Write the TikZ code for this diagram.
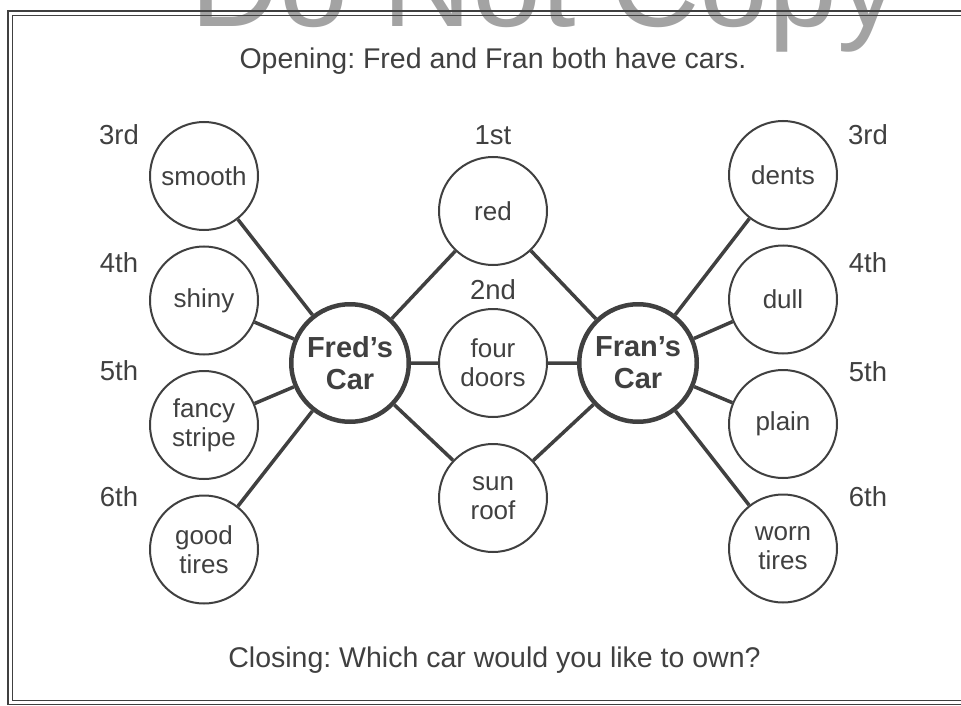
\documentclass[tikz,border=0pt]{standalone}
\usepackage{fontspec}
\setmainfont{Liberation Sans}
\usepackage{xcolor}
\usetikzlibrary{positioning}
\frenchspacing

\definecolor{ink}{gray}{0.25}
\definecolor{wmark}{gray}{0.64}

\begin{document}
\begin{tikzpicture}[
  x=1pt, y=-1pt,
  node distance=14.5pt and 14.5pt,
  item/.style={circle, draw=ink, line width=2pt, minimum size=108pt, inner sep=0pt, align=center, text=ink, font=\fontsize{26}{29}\selectfont},
  car/.style={circle, draw=ink, line width=4.5pt, minimum size=117.5pt, inner sep=0pt, align=center, text=ink, font=\fontsize{29}{32}\selectfont\bfseries},
  rank/.style={text=ink, inner sep=0pt, font=\fontsize{27.5}{30}\selectfont},
  caption/.style={text=ink, inner sep=0pt, anchor=base, font=\fontsize{28.5}{32}\selectfont},
  link/.style={draw=ink, line width=3.5pt}
]
  \useasboundingbox (0,0) rectangle (961,706);
  % watermark
  \node[text=wmark, inner sep=0pt, anchor=base, font=\fontsize{124}{124}\selectfont] (mark) at (545,27) {Do Not Copy};

  % frame, open on the right
  \draw[ink, line width=1.5pt] (8,11) rectangle (990,704.5);
  \draw[ink, line width=1.5pt] (12.5,15.5) rectangle (990,700.5);

  % the two cars
  \node[car] (fred) at (350,363) {Fred’s\\Car};
  \node[car] (fran) at (638,363) {Fran’s\\Car};

  % shared details
  \node[item] (red) at (493,211) {red};
  \node[item] (doors) at (493,363) {four\\doors};
  \node[item] (roof) at (493,498) {sun\\roof};

  % Fred only
  \node[item] (smooth) at (204,176) {smooth};
  \node[item, below=of smooth] (shiny) {shiny};
  \node[item, below=of shiny] (stripe) {fancy\\stripe};
  \node[item, below=of stripe] (goodtires) {good\\tires};

  % Fran only
  \node[item] (dents) at (783,175) {dents};
  \node[item, below=of dents] (dull) {dull};
  \node[item, below=of dull] (plain) {plain};
  \node[item, below=of plain] (worntires) {worn\\tires};

  % order labels
  \node[rank] (r1) at (493,135) {1st};
  \node[rank] (r2) at (493,290) {2nd};
  \node[rank] (l3) at (119,135) {3rd};
  \node[rank] (l4) at (119,263) {4th};
  \node[rank] (l5) at (119,371) {5th};
  \node[rank] (l6) at (119,497) {6th};
  \node[rank] (g3) at (868,135) {3rd};
  \node[rank] (g4) at (868,263) {4th};
  \node[rank] (g5) at (868,372) {5th};
  \node[rank] (g6) at (868,497) {6th};

  \draw[link] (fred) -- (smooth) (fred) -- (shiny) (fred) -- (stripe) (fred) -- (goodtires);
  \draw[link] (fred) -- (red) (fred) -- (doors) (fred) -- (roof);
  \draw[link] (fran) -- (red) (fran) -- (doors) (fran) -- (roof);
  \draw[link] (fran) -- (dents) (fran) -- (dull) (fran) -- (plain) (fran) -- (worntires);

  \node[caption] (opening) at (493,69) {Opening: Fred and Fran both have cars.};
  \node[caption] (closing) at (494.5,667) {Closing: Which car would you like to own?};
\end{tikzpicture}
\end{document}
